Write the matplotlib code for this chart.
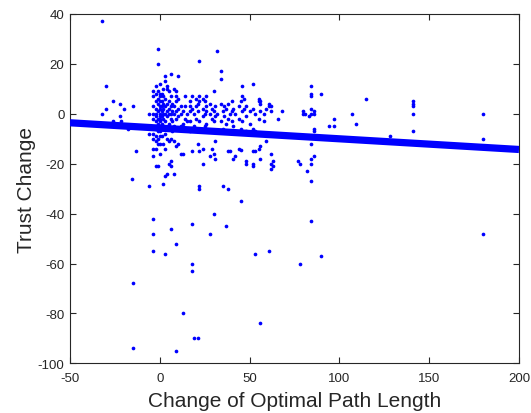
import numpy as np
import matplotlib
matplotlib.use("Agg")
import matplotlib.pyplot as plt

plt.rcParams['font.family'] = ['Liberation Sans', 'DejaVu Sans']
plt.rcParams['axes.unicode_minus'] = False

# (change of optimal path length, trust change), column by column
path_change = (
    [-32, -32, -30, -30, -26, -26, -22, -22, -21.7, -20, -17.6, -15, -15, -15.7, -13, -15]
    + [-6] * 4 + [-4] * 12 + [-2] * 12 + [-1] * 12 + [0] * 15 + [1] * 8 + [2] * 9
    + [3] * 10 + [4] * 8 + [5] * 7 + [6] * 9 + [7] * 4 + [8] * 6 + [9] * 8 + [10] * 5
    + [12] * 4 + [13] * 4 + [14] * 3 + [15] * 3 + [17] * 5 + [18] * 6 + [19] * 3
    + [20] * 3 + [21] * 4 + [22] * 7 + [24] * 5 + [25] * 3 + [26] * 4 + [28] * 4
    + [29] * 3 + [30] * 5 + [31] * 4 + [32] * 2 + [34] * 4 + [35] * 3 + [36] * 2
    + [37] * 3 + [38] * 4 + [39] * 2 + [40] * 3 + [41] * 3 + [42] * 2 + [44] * 3
    + [45] * 4 + [46] * 4 + [47] * 2 + [48] * 5 + [50] * 2 + [52] * 6 + [53] * 4
    + [55] * 4 + [56] * 6 + [58] * 2 + [59] * 2 + [61] * 4 + [62] * 5 + [63] * 2
    + [66, 68, 77, 78, 78, 80, 80, 81, 82, 83]
    + [84] * 10 + [86] * 5 + [90, 90, 94, 97, 97, 107, 109, 115, 128]
    + [141] * 5 + [180] * 3
)
trust_change = (
    [37, 0, 11, 2, 5, -3, 4, -1, -3, 2, -6, 3, -68, -26, -15, -94]
    + [0, -5, -8, -29]
    + [9, 7, 3, 0, -2, -8, -10, -14, -17, -42, -48, -55]
    + [11, 8, 5, 2, 0, -1, -3, -6, -9, -11, -14, -21]
    + [26, 20, 9, 6, 4, 1, -2, -4, -7, -10, -12, -21]
    + [12, 8, 7, 5, 3, 2, 0, -1, -2, -3, -5, -7, -9, -12, -16]
    + [8, 5, 3, 1, -1, -4, -6, -9]
    + [10, 7, 4, 2, 0, -2, -5, -12, -28]
    + [15, 13, 6, 3, 0, -3, -8, -14, -25, -56]
    + [11, 10, 4, 1, -1, -6, -10, -24]
    + [9, 5, 2, 0, -4, -11, -20]
    + [16, 7, 3, 0, -2, -10, -19, -21, -46]
    + [4, 1, -3, -7]
    + [10, 3, 0, -5, -11, -24]
    + [9, 7, 5, 1, -2, -13, -52, -95]
    + [15, 6, 2, -1, -12]
    + [3, 0, -5, -16]
    + [1, -4, -16, -80]
    + [7, 3, -2]
    + [0, -3, -6]
    + [5, 3, 1, -3, -7]
    + [7, 2, -15, -44, -60, -63]
    + [0, -5, -90]
    + [6, 3, -2]
    + [4, 1, -12, -90]
    + [21, 7, 5, -3, -15, -30, -29]
    + [6, 2, -1, -14, -20]
    + [5, 0, -5]
    + [7, 3, 1, -4]
    + [4, 0, -17, -48]
    + [2, -2, -14]
    + [9, 1, -3, -16, -40]
    + [3, -1, -11, -18]
    + [25, 0]
    + [17, 14, 4, -3]
    + [1, -6, -29]
    + [3, -1]
    + [2, -4, -45]
    + [4, -2, -15, -30]
    + [0, -15]
    + [5, 1, -3]
    + [2, -5, -18]
    + [0, -17]
    + [3, -2, -14]
    + [5, -6, -14.5, -35]
    + [11, 7, 1, -3]
    + [6, 2]
    + [3, -1, -7, -19, -20]
    + [1, -4]
    + [12, 2, -6, -15, -20, -21]
    + [0, -7, -15, -56]
    + [6, 5, -2, -14]
    + [5, 4, 1, -13, -18, -84]
    + [0, -3]
    + [2, -11]
    + [3, 4, -55, -8]
    + [3, 1, -16, -20, -22]
    + [-19, -21]
    + [-2, 1, -19, -20, -60, 0, 1, 0, -23, -1]
    + [11, 8, 7, 2, 0, -12, -18, -20, -27, -43]
    + [1, 0, -6, -7, -17]
    + [8, -57, -5, -2, -5, 0, -4, 6, -9]
    + [5, 4, 3, 0, -7]
    + [0, -10, -48]
)

# least-squares fit line as drawn in the figure
fit_intercept = -5.74
fit_slope = -0.0428

x_ticks = [-50, 0, 50, 100, 150, 200]
y_ticks = [-100, -80, -60, -40, -20, 0, 20, 40]

fig = plt.figure(figsize=(5.31, 4.14), dpi=100)
ax = fig.add_axes([0.1318, 0.12, 0.8456, 0.8438])

ax.scatter(path_change, trust_change, s=7, color='#0000ff', linewidths=0, zorder=2)

line_x = np.array([x_ticks[0], x_ticks[-1]])
ax.plot(line_x, fit_intercept + fit_slope * line_x, color='#0000ff', lw=5.2,
        solid_capstyle='butt', zorder=3)

ax.set_xlim(-50, 200)
ax.set_ylim(-100, 40)
ax.set_xticks(x_ticks)
ax.set_yticks(y_ticks)

grey = '#262626'
for sp in ax.spines.values():
    sp.set_color(grey)
    sp.set_linewidth(0.8)
ax.tick_params(direction='in', length=4, width=0.8, colors=grey, labelsize=9.5,
               top=True, right=True)
ax.tick_params(axis='x', pad=6)
ax.tick_params(axis='y', pad=4)

ax.set_xlabel('Change of Optimal Path Length', fontsize=15, color=grey, labelpad=5)
ax.set_ylabel('Trust Change', fontsize=15, color=grey, labelpad=1)

fig.savefig('out.png', dpi=100)
